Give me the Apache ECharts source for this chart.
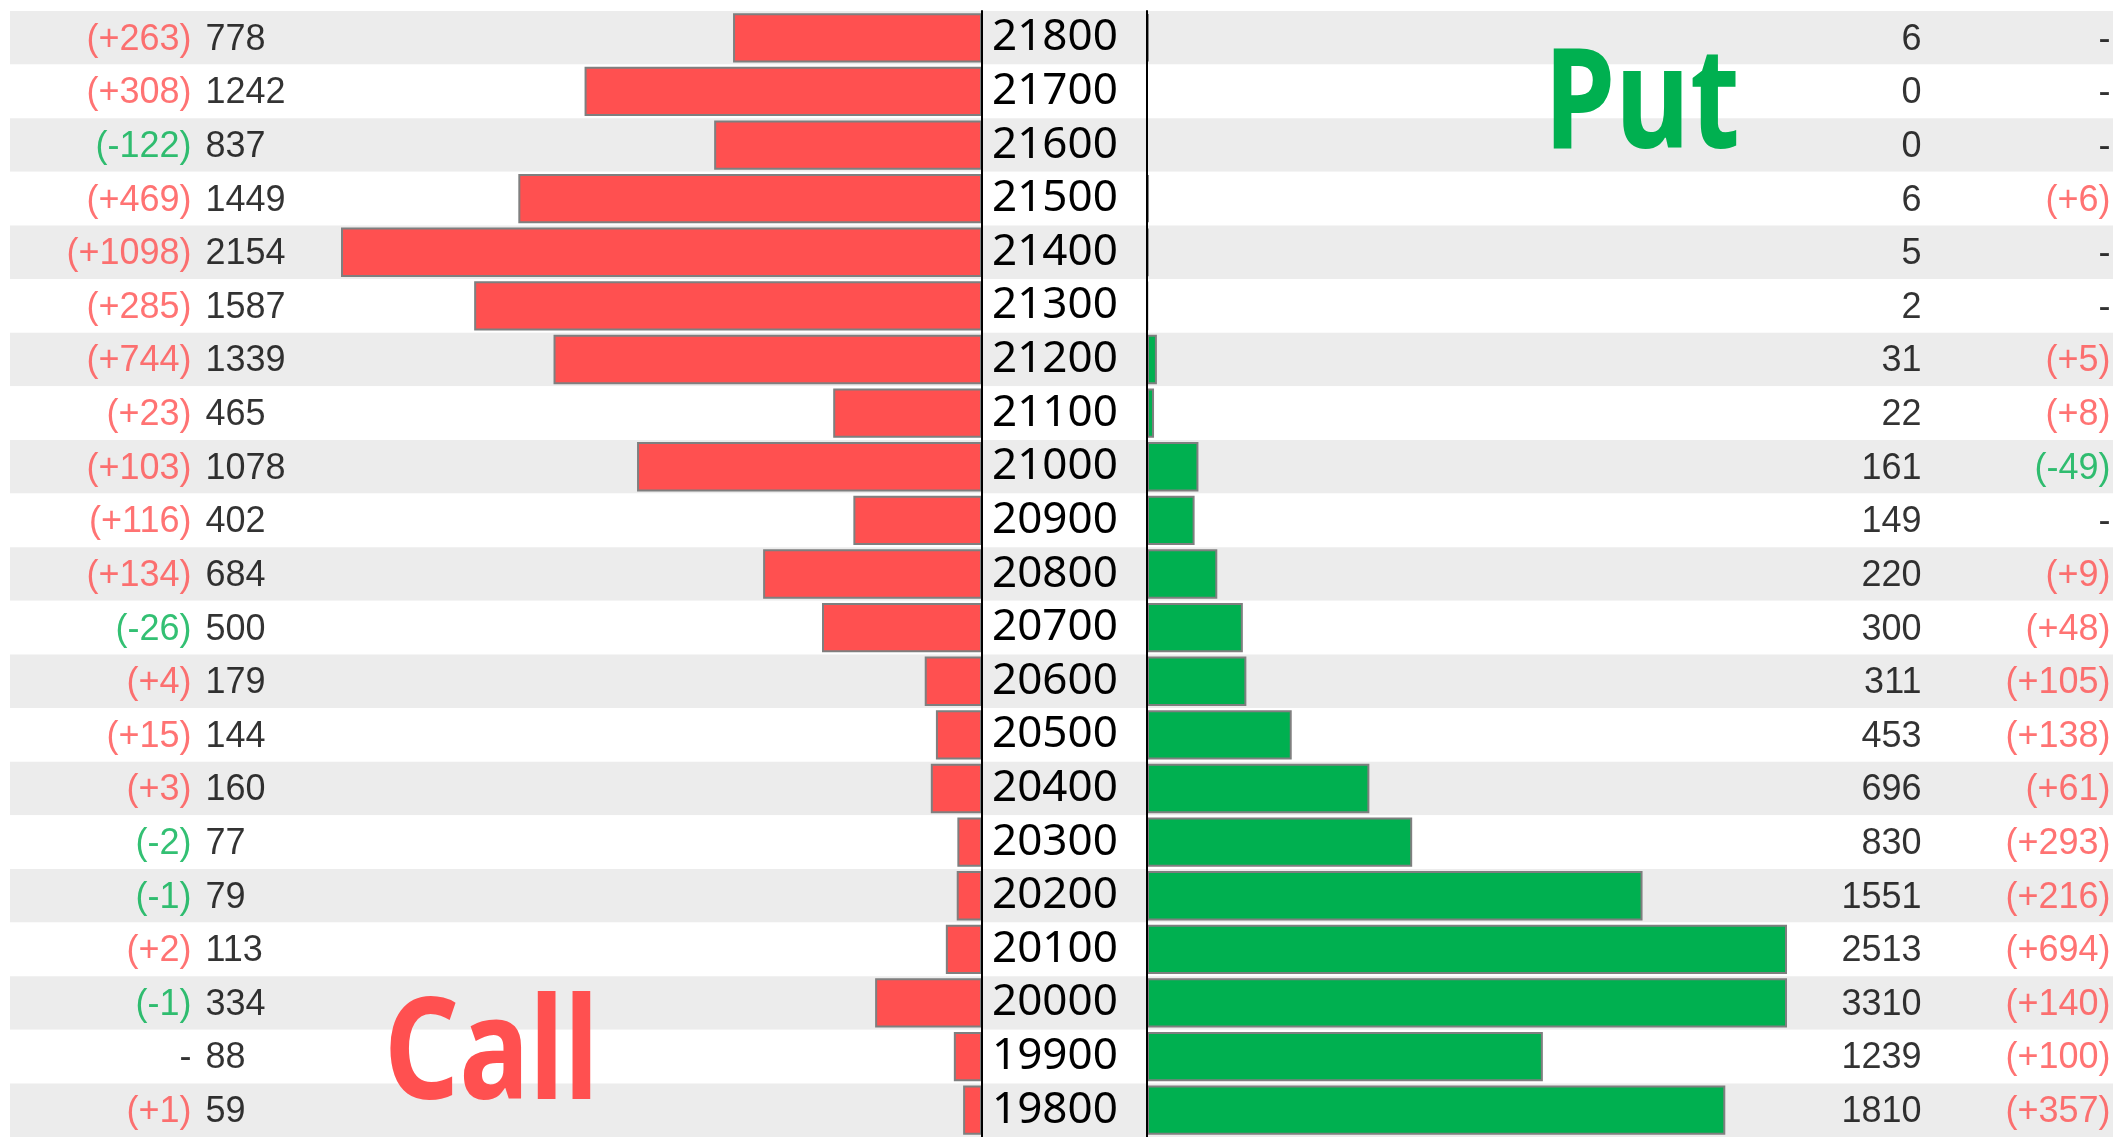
<!DOCTYPE html>
<html><head><meta charset="utf-8">
<script src="https://cdn.jsdelivr.net/npm/echarts@6/dist/echarts.min.js"></script>
<style>html,body{margin:0;padding:0;background:#fff}#c{width:2113px;height:1137px}</style>
</head><body><div id="c"></div>
<script>
const strikes = ['21800','21700','21600','21500','21400','21300','21200','21100','21000','20900','20800','20700','20600','20500','20400','20300','20200','20100','20000','19900','19800'];
const callOI  = [778,1242,837,1449,2154,1587,1339,465,1078,402,684,500,179,144,160,77,79,113,334,88,59];
const callChg = ['+263','+308','-122','+469','+1098','+285','+744','+23','+103','+116','+134','-26','+4','+15','+3','-2','-1','+2','-1','-','+1'];
const putOI   = [6,0,0,6,5,2,31,22,161,149,220,300,311,453,696,830,1551,2513,3310,1239,1810];
const putChg  = ['-','-','-','+6','-','-','+5','+8','-49','-','+9','+48','+105','+138','+61','+293','+216','+694','+140','+100','+357'];
const axisMax = 2000;

const RED = '#ff5050', GREEN = '#00b050', BAND = '#ececec';
const TOP = 11, HEIGHT = 1130;
const COL = { callChg: 192, callOI: 205, putOI: 1922, putChg: 2111 };
const LBL_FONT = 'Liberation Sans, Arial, sans-serif';

function chgText(c){ return c === '-' ? '-' : '(' + c + ')'; }
function chgColor(c){ return c === '-' ? '#000' : (c[0] === '+' ? RED : GREEN); }

function textSeries(col, texts, colors, pos){
  return {
    type: 'scatter', xAxisIndex: 0, yAxisIndex: 0, silent: true,
    symbolSize: 1, itemStyle: { color: 'rgba(0,0,0,0)' }, z: 5,
    label: { show: true, position: pos, distance: 0, offset: [0, 2], fontSize: 36, fontFamily: LBL_FONT },
    data: texts.map((t, i) => ({ value: [col, i], label: { formatter: String(t), color: colors[i] } }))
  };
}

const chart = echarts.init(document.getElementById('c'), null, { renderer: 'canvas' });
chart.setOption({
  backgroundColor: '#fff',
  animation: false,
  grid: [
    { left: 10, right: 0, top: TOP, height: HEIGHT },
    { left: 342, width: 640, top: TOP, height: HEIGHT },
    { left: 1147, width: 639, top: TOP, height: HEIGHT }
  ],
  xAxis: [
    { gridIndex: 0, type: 'value', min: 10, max: 2113, show: false },
    { gridIndex: 1, type: 'value', min: 0, max: axisMax, inverse: true, show: false },
    { gridIndex: 2, type: 'value', min: 0, max: axisMax, show: false }
  ],
  yAxis: [
    { gridIndex: 0, type: 'category', data: strikes, inverse: true,
      axisLine: { show: false }, axisTick: { show: false }, axisLabel: { show: false },
      splitLine: { show: false },
      splitArea: { show: true, interval: 0, areaStyle: { color: [BAND, '#ffffff'] } } },
    { gridIndex: 1, type: 'category', data: strikes, inverse: true, position: 'right', z: 10,
      axisLine: { show: true, lineStyle: { color: '#000', width: 2 } }, axisTick: { show: false },
      axisLabel: { show: true, interval: 0, margin: 10, fontSize: 44, fontFamily: 'Noto Sans', color: '#000', padding: [6, 0, 0, 0] },
      splitLine: { show: false } },
    { gridIndex: 2, type: 'category', data: strikes, inverse: true, position: 'left', z: 10,
      axisLine: { show: true, lineStyle: { color: '#000', width: 2 } }, axisTick: { show: false },
      axisLabel: { show: false }, splitLine: { show: false } }
  ],
  series: [
    { type: 'bar', name: 'Call', xAxisIndex: 1, yAxisIndex: 1, data: callOI, clip: true, silent: true,
      barCategoryGap: '8%', itemStyle: { color: RED, borderColor: '#7f7f7f', borderWidth: 2 } },
    { type: 'bar', name: 'Put', xAxisIndex: 2, yAxisIndex: 2, data: putOI, clip: true, silent: true,
      barCategoryGap: '8%', itemStyle: { color: GREEN, borderColor: '#7f7f7f', borderWidth: 2 } },
    textSeries(COL.callChg, callChg.map(chgText), callChg.map(chgColor), 'left'),
    textSeries(COL.callOI, callOI, callOI.map(() => '#000'), 'right'),
    textSeries(COL.putOI, putOI, putOI.map(() => '#000'), 'left'),
    textSeries(COL.putChg, putChg.map(chgText), putChg.map(chgColor), 'left')
  ],
  graphic: [
    { type: 'text', x: 384, y: 988, scaleX: 0.83, z: 20, silent: true,
      style: { text: 'Call', font: 'bold 141px "Noto Sans"', fill: RED, textVerticalAlign: 'top', verticalAlign: 'top' } },
    { type: 'text', x: 1544, y: 38, scaleX: 0.82, z: 20, silent: true,
      style: { text: 'Put', font: 'bold 140px "Noto Sans"', fill: GREEN, textVerticalAlign: 'top', verticalAlign: 'top' } }
  ]
});
</script></body></html>
